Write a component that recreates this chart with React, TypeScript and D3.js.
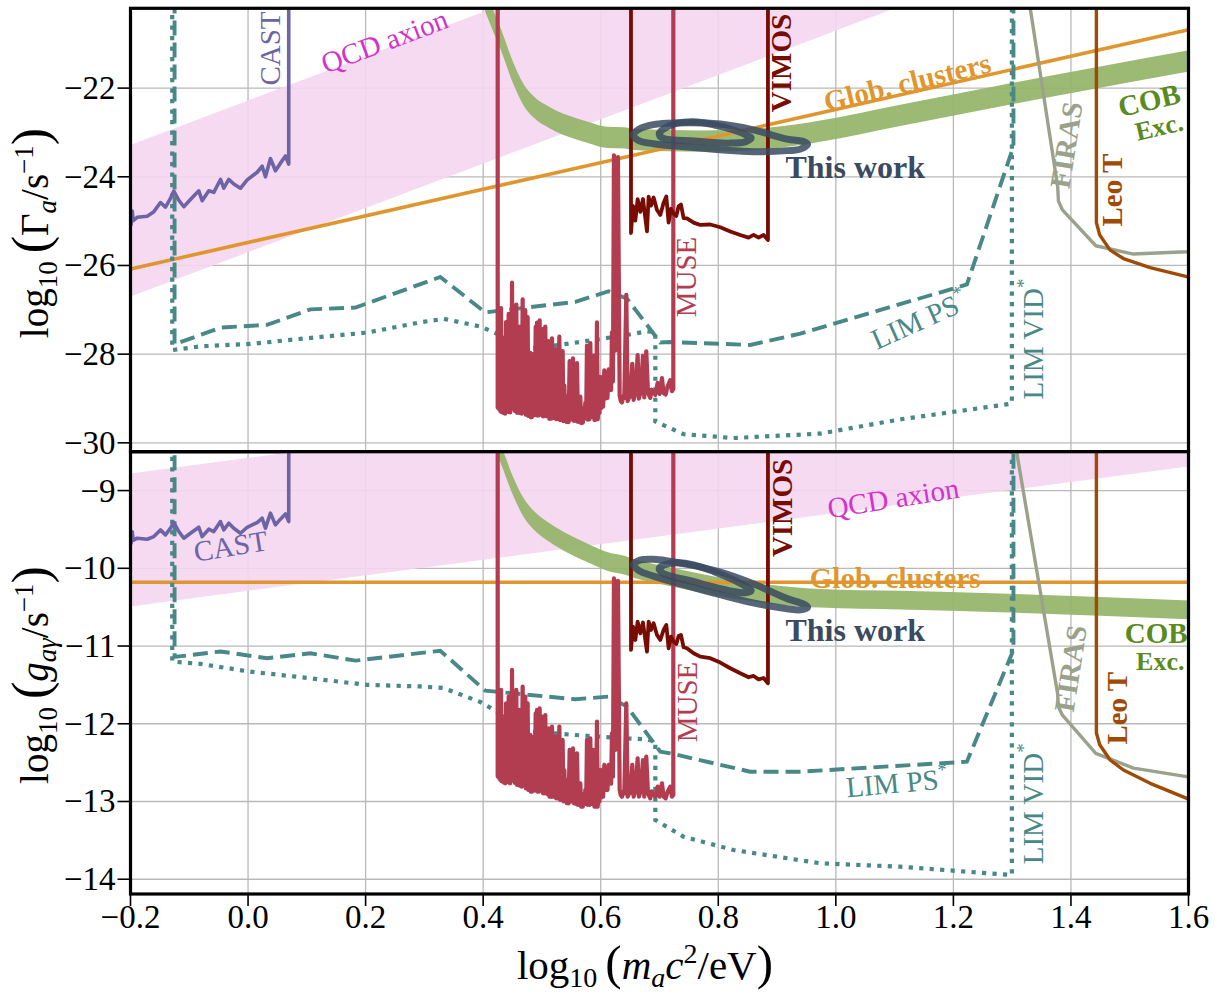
import React from "react";
import * as d3 from "d3";

type Pt = [number, number];

// ---- axes -------------------------------------------------------------
const massTicks = [-0.2, 0.0, 0.2, 0.4, 0.6, 0.8, 1.0, 1.2, 1.4, 1.6];
const rateTicks = [-30, -28, -26, -24, -22];
const couplingTicks = [-14, -13, -12, -11, -10, -9];

// ---- limits, all stored as (log10 m_a c^2/eV, log10 g_aγ / GeV^-1) ----
const qcdMass = [-0.2, 1.6];
const qcdLower = [-10.49, -8.69];
const qcdUpper = [-8.78, -6.98];

const globMass = [-0.2, 1.6];
const globCoupling = [-10.18, -10.18];

const castLimit: Pt[] = [
  [-0.2, -9.55], [-0.199, -9.68], [-0.197, -9.53], [-0.1955, -9.64],
  [-0.1886, -9.613], [-0.1716, -9.626], [-0.1603, -9.592], [-0.149, -9.506],
  [-0.1405, -9.57], [-0.132, -9.484], [-0.1263, -9.411], [-0.1178, -9.527],
  [-0.1093, -9.613], [-0.098, -9.549], [-0.0838, -9.472], [-0.0781, -9.592],
  [-0.0668, -9.497], [-0.0583, -9.527], [-0.0469, -9.399], [-0.0413, -9.506],
  [-0.0328, -9.42], [-0.0243, -9.484], [-0.0129, -9.549], [-0.0015, -9.472],
  [0.0155, -9.411], [0.024, -9.356], [0.0296, -9.484], [0.0381, -9.29],
  [0.0466, -9.441], [0.0551, -9.368], [0.0636, -9.3], [0.0692, -9.399],
  [0.0692, -6.0],
];

// COB excess: central coupling and half width of the band
const cobCentre: Pt[] = [
  [0.3782, -7.5], [0.3952, -7.9], [0.4122, -8.22], [0.4293, -8.52],
  [0.4519, -8.96], [0.4689, -9.22], [0.4859, -9.38], [0.5143, -9.548],
  [0.5427, -9.677], [0.5767, -9.8], [0.6107, -9.91], [0.64, -9.96],
  [0.656, -10.0], [0.7128, -10.1], [0.7694, -10.19], [0.826, -10.27],
  [0.8828, -10.33], [0.9395, -10.37], [0.9735, -10.385], [1.1095, -10.41],
  [1.2796, -10.445], [1.4497, -10.49], [1.62, -10.54],
];
const cobHalfWidth = 0.12;

const museLimit: Pt[] = [
  [0.4247, -6.0], [0.4247, -12.68], [0.4256, -11.95], [0.4264, -11.608],
  [0.4272, -12.7], [0.4281, -12.1], [0.429, -12.723], [0.4304, -11.565],
  [0.4312, -12.74], [0.4321, -12.2], [0.433, -12.745], [0.4349, -11.908],
  [0.4357, -12.76], [0.4366, -12.05], [0.4375, -12.766], [0.4389, -11.736],
  [0.4397, -12.75], [0.4406, -12.3], [0.4415, -12.745], [0.4434, -11.651],
  [0.4442, -12.76], [0.4451, -12.0], [0.446, -12.766], [0.4474, -11.908],
  [0.4482, -12.3], [0.4491, -11.307], [0.45, -12.73], [0.4508, -12.1],
  [0.4517, -12.723], [0.453, -11.779], [0.4538, -12.76], [0.4547, -12.2],
  [0.4556, -12.766], [0.4564, -11.565], [0.4575, -12.787], [0.4587, -12.05],
  [0.46, -12.79], [0.4621, -11.822], [0.4632, -12.8], [0.4644, -12.25],
  [0.4655, -12.809], [0.4672, -11.522], [0.468, -12.77], [0.4689, -12.1],
  [0.47, -12.766], [0.4717, -11.651], [0.4725, -12.83], [0.4734, -12.3],
  [0.4745, -12.83], [0.4757, -11.736], [0.4768, -12.852], [0.478, -12.35],
  [0.479, -12.852], [0.4802, -12.144], [0.481, -12.873], [0.4819, -12.5],
  [0.483, -12.873], [0.4848, -12.165], [0.4858, -12.852], [0.487, -12.4],
  [0.488, -12.86], [0.4893, -11.865], [0.4905, -12.5], [0.4916, -11.822],
  [0.4927, -12.873], [0.4938, -12.3], [0.495, -12.873], [0.4961, -11.801],
  [0.4972, -12.852], [0.4984, -12.35], [0.4995, -12.86], [0.5006, -11.908],
  [0.5018, -12.895], [0.5029, -12.4], [0.5043, -12.895], [0.5057, -11.887],
  [0.507, -12.895], [0.5086, -12.45], [0.51, -12.91], [0.5114, -12.058],
  [0.5128, -12.938], [0.5143, -12.5], [0.5157, -12.94], [0.5171, -12.037],
  [0.5185, -12.938], [0.5199, -12.55], [0.5213, -12.94], [0.5228, -12.165],
  [0.5242, -12.959], [0.5256, -12.6], [0.527, -12.96], [0.5296, -12.037],
  [0.531, -12.98], [0.5324, -12.55], [0.5338, -12.981], [0.5352, -12.208],
  [0.5366, -13.0], [0.5381, -12.6], [0.5395, -13.0], [0.5409, -12.723],
  [0.5423, -13.02], [0.5437, -12.75], [0.5454, -13.023], [0.5471, -12.337],
  [0.5485, -13.002], [0.55, -12.7], [0.5514, -13.0], [0.5528, -12.316],
  [0.5545, -13.023], [0.5562, -12.8], [0.5579, -13.03], [0.5596, -12.38],
  [0.5613, -13.045], [0.563, -12.8], [0.5641, -13.045], [0.5653, -12.766],
  [0.5667, -13.066], [0.5681, -12.9], [0.5695, -13.066], [0.5709, -12.938],
  [0.5724, -13.023], [0.5738, -12.85], [0.5752, -13.03], [0.5766, -12.208],
  [0.578, -13.045], [0.5794, -12.7], [0.5808, -13.045], [0.5823, -12.187],
  [0.5837, -13.023], [0.5851, -12.75], [0.5865, -13.03], [0.5879, -12.337],
  [0.5893, -13.066], [0.5908, -12.8], [0.5922, -13.066], [0.5936, -11.972],
  [0.595, -13.066], [0.5965, -12.8], [0.5979, -13.0], [0.5993, -12.594],
  [0.6007, -12.95], [0.6021, -12.7], [0.6041, -12.938], [0.6061, -12.53],
  [0.6078, -12.852], [0.6095, -12.65], [0.6115, -12.85], [0.6135, -12.53],
  [0.6149, -12.766], [0.6163, -12.6], [0.6177, -12.77], [0.6191, -12.122],
  [0.6208, -12.68], [0.6225, -10.13], [0.6248, -12.337], [0.6293, -10.16],
  [0.6322, -12.852], [0.6342, -12.92], [0.6361, -12.938], [0.6381, -12.87],
  [0.6401, -12.895], [0.6435, -11.736], [0.6458, -12.938], [0.648, -12.9],
  [0.6503, -12.895], [0.6537, -12.53], [0.656, -12.938], [0.6594, -12.852],
  [0.6628, -12.444], [0.665, -12.938], [0.6684, -12.852], [0.6718, -12.466],
  [0.6741, -12.938], [0.6775, -12.423], [0.6804, -12.895], [0.6843, -12.959],
  [0.6866, -12.87], [0.6889, -12.895], [0.6928, -12.938], [0.6968, -12.809],
  [0.7002, -12.938], [0.7042, -12.766], [0.707, -12.938], [0.7104, -12.959],
  [0.7138, -12.873], [0.7183, -12.809], [0.7212, -12.938], [0.7235, -12.916],
  [0.7235, -6.0],
];

const vimosLimit: Pt[] = [
  [0.6515, -6.0], [0.6515, -11.05], [0.6549, -10.75], [0.6589, -10.922],
  [0.6628, -10.686], [0.6674, -10.836], [0.6719, -10.698], [0.6759, -10.922],
  [0.6787, -11.072], [0.6815, -10.686], [0.6855, -10.793], [0.69, -10.707],
  [0.6957, -10.857], [0.7014, -10.922], [0.707, -10.793], [0.7116, -10.728],
  [0.7155, -11.029], [0.7195, -10.879], [0.724, -10.943], [0.7286, -10.973],
  [0.7325, -10.87], [0.7365, -10.857], [0.741, -11.016], [0.7467, -11.029],
  [0.758, -11.093], [0.7694, -11.136], [0.7864, -11.157], [0.8034, -11.213],
  [0.8204, -11.286], [0.8374, -11.351], [0.8516, -11.402], [0.8601, -11.385],
  [0.8686, -11.428], [0.8771, -11.411], [0.8845, -11.479], [0.8845, -6.0],
];

const limPointSource: Pt[] = [
  [-0.125, -6.0], [-0.125, -11.14], [-0.0469, -11.07], [0.0325, -11.157],
  [0.1061, -11.093], [0.1827, -11.188], [0.327, -11.06], [0.4037, -11.574],
  [0.5568, -11.685], [0.6134, -11.65], [0.6447, -11.78], [0.7014, -12.36],
  [0.7184, -12.38], [0.8544, -12.617], [0.9395, -12.617], [1.223, -12.488],
  [1.3022, -11.05], [1.3022, -6.0],
];

const limVoxelIntensity: Pt[] = [
  [-0.129, -6.0], [-0.129, -11.2], [-0.081, -11.23], [0.004, -11.33],
  [0.089, -11.4], [0.2026, -11.5], [0.2932, -11.52], [0.3327, -11.54],
  [0.3952, -11.72], [0.418, -11.82], [0.483, -12.1], [0.548, -12.14],
  [0.6447, -12.19], [0.6787, -12.2], [0.6929, -12.23], [0.6929, -13.238],
  [0.741, -13.453], [0.826, -13.624], [0.9735, -13.795], [1.1095, -13.839],
  [1.2995, -13.946], [1.2995, -6.0],
];

const firasLimit: Pt[] = [
  [1.2966, -8.0], [1.308, -8.52], [1.3775, -11.62], [1.3787, -11.78],
  [1.3855, -11.89], [1.4423, -12.38], [1.5063, -12.57], [1.597, -12.68],
  [1.62, -12.7],
];

const leoTLimit: Pt[] = [
  [1.4433, -6.0], [1.4433, -12.12], [1.449, -12.27], [1.4667, -12.466],
  [1.4893, -12.595], [1.5347, -12.766], [1.5971, -12.96], [1.62, -13.03],
];

// credible-region contours of the fit
const fitOuter: Pt[] = [
  [0.6555, -9.95], [0.665, -9.9], [0.6895, -9.885], [0.7473, -9.95],
  [0.8034, -10.05], [0.8595, -10.2], [0.9173, -10.39], [0.945, -10.46],
  [0.952, -10.5], [0.94, -10.535], [0.9173, -10.52], [0.8595, -10.445],
  [0.8034, -10.34], [0.7473, -10.225], [0.6895, -10.1], [0.665, -10.03],
];
const fitInner: Pt[] = [
  [0.6995, -10.0], [0.709, -9.955], [0.73, -9.93], [0.758, -9.955],
  [0.792, -10.04], [0.826, -10.15], [0.848, -10.24], [0.856, -10.285],
  [0.846, -10.315], [0.8204, -10.29], [0.7864, -10.23], [0.7524, -10.16],
  [0.724, -10.11], [0.705, -10.06],
];

// decay rate Γ = g² m³ / (64 π ħ), logs with m in eV and g in GeV^-1
const HBAR_GEV_S = 6.582e-25;
const rateOffset = Math.log10(1e-27 / (64 * Math.PI * HBAR_GEV_S));
const toRate = ([m, g]: Pt): Pt => [m, 2 * g + 3 * m + rateOffset];
const asCoupling = (p: Pt): Pt => p;

// ---- colours ----------------------------------------------------------
const C = {
  qcdFill: "#f4d6f1",
  qcdText: "#d234c8",
  glob: "#e0962f",
  cob: "#94b468",
  cobText: "#5a8a22",
  cast: "#6c64a5",
  vimos: "#780c02",
  muse: "#b23c50",
  lim: "#488886",
  firas: "#9ba28c",
  leo: "#a04b05",
  fit: "#3a4a60",
  grid: "#b9b9b9",
};

const FONT = "'Liberation Serif', 'DejaVu Serif', serif";

// ---- layout -----------------------------------------------------------
const W = 1215;
const H = 992;
const left = 130.5;
const right = 1188.5;
const topY0 = 8.3;
const midY = 451.7;
const botY1 = 894;

const x = d3.scaleLinear().domain([-0.2, 1.6]).range([left, right]);
const yRate = d3.scaleLinear().domain([-30.2, -20.2]).range([midY, topY0]);
const yCoupling = d3.scaleLinear().domain([-14.19, -8.5]).range([botY1, midY]);

type Label = {
  text: string;
  at: Pt;
  rot: number;
  color: string;
  bold?: boolean;
  size?: number;
  star?: boolean;
};

const rateLabels: Label[] = [
  { text: "CAST", at: [0.0381, -21.107], rot: -90, color: C.cast },
  { text: "QCD axion", at: [0.232, -20.937], rot: -20.6, color: C.qcdText },
  { text: "VIMOS", at: [0.9071, -21.434], rot: -90, color: C.vimos, bold: true },
  { text: "Glob. clusters", at: [1.1214, -21.862], rot: -13.5, color: C.glob, bold: true },
  { text: "This work", at: [1.033, -23.78], rot: 0, color: C.fit, bold: true, size: 32 },
  { text: "MUSE", at: [0.7456, -26.26], rot: -90, color: C.muse },
  { text: "FIRAS", at: [1.3918, -23.28], rot: -81, color: C.firas, bold: true },
  { text: "Leo T", at: [1.47, -24.3], rot: -90, color: C.leo, bold: true },
  { text: "COB", at: [1.533, -22.27], rot: -13, color: C.cobText, bold: true },
  { text: "Exc.", at: [1.55, -22.88], rot: -13, color: C.cobText, bold: true, size: 26 },
  { text: "LIM PS", at: [1.142, -27.23], rot: -24, color: C.lim, star: true },
  { text: "LIM VID", at: [1.3358, -27.66], rot: -90, color: C.lim, star: true },
];

const couplingLabels: Label[] = [
  { text: "CAST", at: [-0.0299, -9.713], rot: -9, color: C.cast },
  { text: "QCD axion", at: [1.0976, -9.096], rot: -9, color: C.qcdText },
  { text: "VIMOS", at: [0.9088, -9.224], rot: -90, color: C.vimos, bold: true },
  { text: "Glob. clusters", at: [1.101, -10.125], rot: 0, color: C.glob, bold: true },
  { text: "This work", at: [1.033, -10.794], rot: 0, color: C.fit, bold: true, size: 32 },
  { text: "MUSE", at: [0.7473, -11.72], rot: -90, color: C.muse },
  { text: "LIM PS", at: [1.104, -12.76], rot: -5, color: C.lim, star: true },
  { text: "LIM VID", at: [1.3358, -13.03], rot: -90, color: C.lim, star: true },
  { text: "FIRAS", at: [1.399, -11.29], rot: -81, color: C.firas, bold: true },
  { text: "Leo T", at: [1.479, -11.8], rot: -90, color: C.leo, bold: true },
  { text: "COB", at: [1.545, -10.835], rot: 0, color: C.cobText, bold: true },
  { text: "Exc.", at: [1.552, -11.195], rot: 0, color: C.cobText, bold: true, size: 26 },
];

type PanelProps = {
  id: string;
  y: d3.ScaleLinear<number, number>;
  map: (p: Pt) => Pt;
  ticks: number[];
  labels: Label[];
  y0: number;
  y1: number;
  xLabels: boolean;
};

function Panel({ id, y, map, ticks, labels, y0, y1, xLabels }: PanelProps) {
  const line = d3
    .line<Pt>()
    .x((d) => x(d[0]))
    .y((d) => y(d[1]));
  const closed = d3
    .line<Pt>()
    .x((d) => x(d[0]))
    .y((d) => y(d[1]))
    .curve(d3.curveCatmullRomClosed.alpha(0.5));
  const band = d3
    .area<[number, number, number]>()
    .x((d) => x(d[0]))
    .y0((d) => y(d[1]))
    .y1((d) => y(d[2]));

  const qcd = qcdMass.map(
    (m, i) => [m, map([m, qcdLower[i]])[1], map([m, qcdUpper[i]])[1]] as [number, number, number]
  );
  const cob = cobCentre.map(
    ([m, g]) =>
      [m, map([m, g - cobHalfWidth])[1], map([m, g + cobHalfWidth])[1]] as [number, number, number]
  );
  const glob = globMass.map((m, i) => map([m, globCoupling[i]]));
  const path = (pts: Pt[]) => line(pts.map(map)) ?? "";

  return (
    <g>
      <defs>
        <clipPath id={id}>
          <rect x={left} y={y0} width={right - left} height={y1 - y0} />
        </clipPath>
      </defs>
      <g clipPath={`url(#${id})`}>
        {massTicks.map((t) => (
          <line key={"gx" + t} x1={x(t)} x2={x(t)} y1={y0} y2={y1} stroke={C.grid} strokeWidth={1.3} />
        ))}
        {ticks.map((t) => (
          <line key={"gy" + t} x1={left} x2={right} y1={y(t)} y2={y(t)} stroke={C.grid} strokeWidth={1.3} />
        ))}
        <path d={band(qcd) ?? ""} fill={C.qcdFill} opacity={0.9} />
        <path d={band.curve(d3.curveMonotoneX)(cob) ?? ""} fill={C.cob} opacity={0.92} />
        <path d={line(glob) ?? ""} fill="none" stroke={C.glob} strokeWidth={3.6} />
        <path d={path(limPointSource)} fill="none" stroke={C.lim} strokeWidth={3.9} strokeDasharray="15 7" />
        <path d={path(limVoxelIntensity)} fill="none" stroke={C.lim} strokeWidth={4.2} strokeDasharray="4.2 6.3" />
        <path d={path(castLimit)} fill="none" stroke={C.cast} strokeWidth={3.6} strokeLinejoin="round" />
        <path d={path(museLimit)} fill="none" stroke={C.muse} strokeWidth={4.2} strokeLinejoin="round" />
        <path d={path(vimosLimit)} fill="none" stroke={C.vimos} strokeWidth={3.8} strokeLinejoin="round" />
        <path d={path(firasLimit)} fill="none" stroke={C.firas} strokeWidth={3.4} strokeLinejoin="round" />
        <path d={path(leoTLimit)} fill="none" stroke={C.leo} strokeWidth={3.4} strokeLinejoin="round" />
        <path d={closed(fitOuter.map(map)) ?? ""} fill="none" stroke={C.fit} strokeWidth={7} opacity={0.85} />
        <path d={closed(fitInner.map(map)) ?? ""} fill="none" stroke={C.fit} strokeWidth={7} opacity={0.85} />
        {labels.map((l) => (
          <text
            key={l.text}
            transform={`translate(${x(l.at[0])},${y(l.at[1])}) rotate(${l.rot})`}
            textAnchor="middle"
            dominantBaseline="central"
            fill={l.color}
            fontFamily={FONT}
            fontSize={l.size ?? 29}
            fontWeight={l.bold ? "bold" : "normal"}
          >
            {l.text}
            {l.star ? (
              <tspan fontSize={19} dy={-10}>
                *
              </tspan>
            ) : null}
          </text>
        ))}
      </g>
      {ticks.map((t) => (
        <g key={"ty" + t}>
          <line x1={left - 13} x2={left} y1={y(t)} y2={y(t)} stroke="#000" strokeWidth={1.6} />
          <text
            x={left - 15}
            y={y(t)}
            textAnchor="end"
            dominantBaseline="central"
            fontFamily={FONT}
            fontSize={33}
          >
            {"\u2212" + Math.abs(t)}
          </text>
        </g>
      ))}
      {xLabels &&
        massTicks.map((t) => (
          <g key={"tx" + t}>
            <line x1={x(t)} x2={x(t)} y1={y1} y2={y1 + 12} stroke="#000" strokeWidth={1.6} />
            <text x={x(t)} y={y1 + 34} textAnchor="middle" fontFamily={FONT} fontSize={33}>
              {(t < 0 ? "\u2212" : "") + Math.abs(t).toFixed(1)}
            </text>
          </g>
        ))}
      <rect x={left} y={y0} width={right - left} height={y1 - y0} fill="none" stroke="#000" strokeWidth={3.2} />
    </g>
  );
}

export default function App() {
  return (
    <svg
      width={W}
      height={H}
      viewBox={`0 0 ${W} ${H}`}
      style={{ position: "absolute", left: 0, top: 0, background: "#fff" }}
    >
      <rect width={W} height={H} fill="#fff" />
      <Panel id="clip-rate" y={yRate} map={toRate} ticks={rateTicks} labels={rateLabels} y0={topY0} y1={midY} xLabels={false} />
      <Panel
        id="clip-coupling"
        y={yCoupling}
        map={asCoupling}
        ticks={couplingTicks}
        labels={couplingLabels}
        y0={midY}
        y1={botY1}
        xLabels={true}
      />
      {/* axis titles */}
      <text transform="translate(48,233) rotate(-90)" textAnchor="middle" fontFamily={FONT} fontSize={39}>
        <tspan>log</tspan>
        <tspan fontSize={27} dy={9}>10</tspan>
        <tspan fontSize={52} dy={-9} dx={8}>(</tspan>
        <tspan>Γ</tspan>
        <tspan fontSize={27} fontStyle="italic" dy={8}>a</tspan>
        <tspan dy={-8}>/s</tspan>
        <tspan fontSize={27} dy={-15}>{"\u22121"}</tspan>
        <tspan fontSize={52} dy={15}>)</tspan>
      </text>
      <text transform="translate(48,675) rotate(-90)" textAnchor="middle" fontFamily={FONT} fontSize={39}>
        <tspan>log</tspan>
        <tspan fontSize={27} dy={9}>10</tspan>
        <tspan fontSize={52} dy={-9} dx={8}>(</tspan>
        <tspan fontStyle="italic">g</tspan>
        <tspan fontSize={27} fontStyle="italic" dy={8}>aγ</tspan>
        <tspan dy={-8}>/s</tspan>
        <tspan fontSize={27} dy={-15}>{"\u22121"}</tspan>
        <tspan fontSize={52} dy={15}>)</tspan>
      </text>
      <text x={645} y={979} textAnchor="middle" fontFamily={FONT} fontSize={41}>
        <tspan>log</tspan>
        <tspan fontSize={28} dy={8}>10</tspan>
        <tspan fontSize={49} dy={-8} dx={8}>(</tspan>
        <tspan fontStyle="italic">m</tspan>
        <tspan fontSize={28} fontStyle="italic" dy={8}>a</tspan>
        <tspan fontStyle="italic" dy={-8}>c</tspan>
        <tspan fontSize={28} dy={-16}>2</tspan>
        <tspan dy={16}>/eV</tspan>
        <tspan fontSize={49}>)</tspan>
      </text>
    </svg>
  );
}
